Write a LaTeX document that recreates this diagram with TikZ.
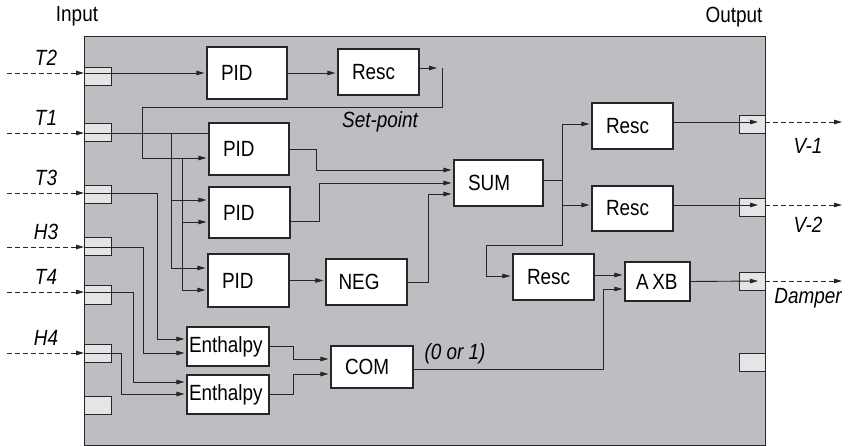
\documentclass[tikz,border=0pt]{standalone}
\usepackage{fontspec}
\setmainfont{Liberation Sans}[FakeStretch=0.86]
\definecolor{panelgray}{RGB}{189, 190, 194}
\definecolor{portgray}{RGB}{228, 229, 231}
\usetikzlibrary{arrows.meta, positioning, calc}
\tikzset{
  sig/.style={line width=0.9pt, draw=black!85},
  arr/.style={sig, -{Triangle[length=8pt, width=4.5pt]}, shorten >=2pt},
  feed/.style={arr, dash pattern=on 5pt off 3pt, shorten >=0pt},
  blk/.style={draw=black!85, line width=1.1pt, fill=white, inner xsep=14pt, inner ysep=0pt, align=left, font=\fontsize{22}{24}\selectfont},
  port/.style={draw=black!85, line width=1pt, fill=portgray, minimum width=27pt, minimum height=18pt, inner sep=0pt},
  lbl/.style={font=\fontsize{22}{24}\selectfont\itshape, inner sep=0pt},
  ttl/.style={font=\fontsize{22}{24}\selectfont, inner sep=0pt}
}
\begin{document}
\begin{tikzpicture}[x=1pt, y=-1pt]
        \useasboundingbox (0,0) rectangle (851,446);

        % Module panel
        \node[draw=black!85, line width=1pt, fill=panelgray, minimum width=681pt, minimum height=408pt, inner sep=0pt]
            (panel) at (424.5,241) {};
        \node[ttl] (inTitle) at (77,16) {Input};
        \node[ttl] (outTitle) at (734,17) {Output};

        % Input ports
        \foreach \n/\ly/\py in {T2/73/77, T1/133/133, T3/193/194.5, H3/247/247, T4/292/295, H4/353/353} {
            \node[port] (in\n) at (97.5,\py) {};
            \coordinate (src\n) at (7,\ly);
            \coordinate (pin\n) at (84,\ly);
            \draw[feed] (src\n) -- (pin\n);
            \node[lbl] (lab\n) at (46,\ly-15) {\n};
        }
        \node[port] (inSpare) at (97.5,405) {};

        % Output ports
        \foreach \n/\ly/\py/\txt/\ty in {V1/122/124.5/V-1/146, V2/205/207.5/V-2/225, Dmp/281/282/Damper/298} {
            \node[port, minimum width=26pt] (out\n) at (752,\py) {};
            \coordinate (pout\n) at (765,\ly);
            \coordinate (dst\n) at (842,\ly);
            \draw[feed] (pout\n) -- (dst\n);
            \node[lbl] (lab\n) at (808,\ty) {\txt};
        }
        \node[port, minimum width=26pt] (outSpare) at (752,362) {};

        % Function blocks
        \node[blk, text width=52pt, minimum height=52pt] (pidA) at (247,73) {PID};
        \node[blk, text width=53pt, minimum height=46pt] (rescA) at (378.5,72) {Resc};
        \node[blk, text width=52pt, minimum height=52pt] (pidB) at (249,149) {PID};
        \node[blk, text width=53pt, minimum height=51pt] (pidC) at (249.5,212.5) {PID};
        \node[blk, text width=53pt, minimum height=53pt] (pidD) at (248.5,280.5) {PID};
        \node[blk, text width=56pt, minimum height=46pt, inner xsep=12.5pt] (neg) at (366.5,282) {NEG};
        \node[blk, text width=61pt, minimum height=46pt] (sum) at (498.5,183) {SUM};
        \node[blk, text width=53pt, minimum height=46pt] (rescB) at (632.5,126) {Resc};
        \node[blk, text width=53pt, minimum height=45pt] (rescC) at (632.5,208.5) {Resc};
        \node[blk, text width=53pt, minimum height=46pt] (rescD) at (553.5,277) {Resc};
        \node[blk, text width=43pt, minimum height=39pt, inner xsep=11pt] (axb) at (657.5,281.5) {A\,XB};
        \node[blk, text width=78pt, minimum height=39pt, inner xsep=2pt] (enthA) at (228,346.5) {Enthalpy};
        \node[blk, text width=78pt, minimum height=39pt, inner xsep=2pt] (enthB) at (228,394.5) {Enthalpy};
        \node[blk, text width=54pt, minimum height=42pt] (com) at (372,367) {COM};

        \node[lbl] (spLabel) at (380,122) {Set-point};
        \node[lbl] (selLabel) at (455,354) {(0 or 1)};

        % Set-point loop
        \coordinate (spTip) at (437,68);
        \coordinate (spTop) at (442,68);
        \coordinate (spBend) at (142,107);
        \coordinate (spBr) at (182,158);
        \coordinate (pvBr) at (171,133);
        \draw[arr] (pinT2) -- (pidA.west |- pinT2);
        \draw[arr] (pidA.east) -- (pidA.east -| rescA.west);
        \draw[arr, shorten >=0pt] ($(rescA.east)+(0,-4)$) -- (spTip);
        \draw[arr] (spTop) |- (spBend) |- ($(pidB.west)+(0,9)$);
        \draw[arr] (spBr) |- ($(pidC.west)+(0,9.5)$);
        \draw[arr] (spBr) |- ($(pidD.west)+(0,9.5)$);

        % Measured value T1
        \draw[sig] (pinT1) -- (pidB.west |- pinT1);
        \draw[arr] (pvBr) |- ($(pidC.west)+(0,-12.5)$);
        \draw[arr] (pvBr) |- ($(pidD.west)+(0,-12.5)$);

        % Controllers to summing block
        \draw[arr] (pidB.east) -- ++(27,0) |- ($(sum.west)+(0,-13)$);
        \draw[arr] ($(pidC.east)+(0,8.5)$) -- ++(29,0) |- (sum.west);
        \draw[arr] (pidD.east) -- (pidD.east -| neg.west);
        \draw[arr] (neg.east) -- ++(21,0) |- ($(sum.west)+(0,11)$);

        % Summing block to rescalers
        \coordinate (sumBr) at (562,180);
        \coordinate (sumBend) at (486,245);
        \draw[sig] ($(sum.east)+(0,-3)$) -- (sumBr);
        \draw[arr] (sumBr) |- ($(rescB.west)+(0,-2)$);
        \draw[arr] (sumBr) |- ($(rescC.west)+(0,-3.5)$);
        \draw[arr] (sumBr) |- (sumBend) |- ($(rescD.west)+(0,-1)$);
        \draw[arr] ($(rescD.east)+(0,-2)$) -- ($(axb.west)+(0,-6.5)$);

        % Rescalers to outputs
        \draw[arr, shorten >=0pt] ($(rescB.east)+(0,-4)$) -- ($(poutV1)+(-7,0)$);
        \draw[arr, shorten >=0pt] ($(rescC.east)+(0,-3.5)$) -- ($(poutV2)+(-7,0)$);
        \draw[arr, shorten >=0pt] (axb.east) -- ($(poutDmp)+(-7,0)$);

        % Enthalpy comparison
        \draw[arr] (pinT3) -- ++(73,0) |- ($(enthA.west)+(0,-7.5)$);
        \draw[arr] (pinH3) -- ++(59,0) |- ($(enthA.west)+(0,6.5)$);
        \draw[arr] (pinT4) -- ++(49,0) |- ($(enthB.west)+(0,-12.5)$);
        \draw[arr] (pinH4) -- ++(37,0) |- ($(enthB.west)+(0,-0.5)$);
        \draw[arr] (enthA.east) -- ++(24,0) |- ($(com.west)+(0,-8)$);
        \draw[arr] (enthB.east) -- ++(24,0) |- ($(com.west)+(0,7)$);
        \coordinate (comBend) at (603,369);
        \draw[arr] ($(com.east)+(0,2)$) -- (comBend) |- ($(axb.west)+(0,7.5)$);
\end{tikzpicture}
\end{document}
